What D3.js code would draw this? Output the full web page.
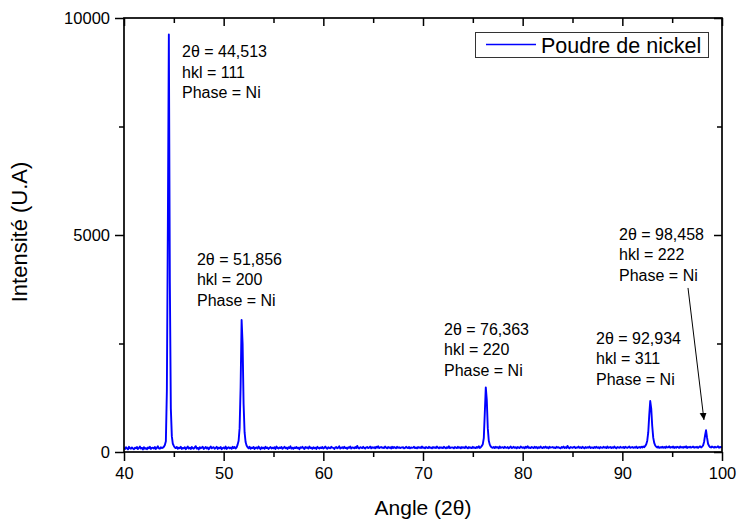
<!DOCTYPE html>
<html><head><meta charset="utf-8">
<script src="https://cdn.jsdelivr.net/npm/d3@7"></script>
<style>
html,body{margin:0;padding:0;background:#fff;}
text{font-family:Arial,"Liberation Sans",sans-serif;fill:#000;}
</style></head>
<body><svg id="c" width="737" height="523"></svg>
<script>
// ---- data ----
const angleStart = 40;      // 2θ of first sample
const angleStep = 0.1;      // sampling step (degrees)
// intensity counts, one row per degree (x.0 ... x.9)
const counts = [
 95, 70,110, 85, 60,120, 90, 75,105, 80,   // 40
 65,100, 85,115, 70, 90,125, 80, 95, 60,   // 41
110, 75, 90, 65,105, 85,120, 70, 95,100,   // 42
 80,115, 70, 95,130, 85, 75,110, 90,100,   // 43
120,160,250,1400,5200,9620,3900,1000,360,190, // 44
140,105, 90,115, 75,100, 85,120, 70, 95,   // 45
 85,110, 65, 95,125, 80,100, 70,115, 90,   // 46
 75,105,135, 80, 95, 60,110, 85,100,120,   // 47
 70, 90,115, 80,105, 65, 95,125, 85,100,   // 48
110, 75, 95,120, 70,100, 85,115, 65, 90,   // 49
105, 80,125, 70, 95,110, 85,100, 75,120,   // 50
 90,115, 80,105,170,260,550,1500,3040,2500, // 51
1100,450,230,150,110, 85,120, 75,100, 90,  // 52
115, 70, 95,105, 80,125, 90, 65,110, 85,   // 53
100, 75,120, 90,105, 70, 95,115, 80,100,   // 54
 85,110, 70,125, 95, 80,105, 90,115, 75,   // 55
 95,120, 85,100, 70,110, 90,130, 80,100,   // 56
 75,105, 90,115, 85,100, 65,110, 95,120,   // 57
 90, 70,115, 95,105, 80,125, 90,100, 75,   // 58
110, 85,100, 70,120, 95, 80,105, 90,115,   // 59
 80,100,125, 90, 75,110, 95, 85,120,100,   // 60
 95, 70,105,115, 85,100,130, 80, 95,110,   // 61
 85,120, 90,100, 75,110, 95,125, 80,105,   // 62
100, 85,115, 90,140, 95, 80,110,100, 90,   // 63
120, 95, 80,105,115, 90,100,125, 85,110,   // 64
 95,110, 85,120,100,130, 90,105,115, 95,   // 65
105, 90,125,100, 85,115, 95,110, 80,120,   // 66
 90,115,100, 85,120, 95,110, 90,105,100,   // 67
110, 85, 95,120,100, 90,115, 85,105, 95,   // 68
100,120, 90,105, 85,115, 95,110, 90,125,   // 69
 95,105, 85,115,100, 90,120, 95,105, 85,   // 70
115, 95,110, 90,125,100, 85,110, 95,105,   // 71
 90,120,100, 85,110, 95,130, 90,105,100,   // 72
105, 85,115,100, 90,120, 95,110, 85,115,   // 73
 95,110, 90,125,100, 85,115, 95,105, 90,   // 74
120, 95,105, 90,115,100,130, 95,110,140,   // 75
180,320,900,1490,1200,550,260,170,125,105, // 76
 95,115, 90,120,100,110, 85,125, 95,105,   // 77
110, 90,120,100, 95,115, 85,105,125, 90,   // 78
100,120, 95,110, 85,115,100, 90,125,105,   // 79
 95,110, 85,120,100,130, 95,105, 90,115,   // 80
105, 90,120,100,115, 85,110, 95,125,100,   // 81
 90,115,100,125, 95,110, 85,120,100,105,   // 82
115, 95,105, 90,120,100,110, 95, 85,115,   // 83
100,125, 90,110, 95,140,100, 85,115,105,   // 84
 95,110,120, 90,105,100,125, 95,110, 90,   // 85
120,100, 85,115, 95,110,100,125, 90,105,   // 86
105, 90,115,100,120, 95,110, 85,115,100,   // 87
 95,120,100,110, 90,125, 95,105,115, 90,   // 88
110, 95,125,100, 85,115,105, 95,120,100,   // 89
100,115, 90,120,105, 95,110,125, 95,105,   // 90
115, 95,110,100,125, 90,105,115,100,120,   // 91
105,125,110,140,180,260,450,850,1175,1000, // 92
600,330,210,150,120,105,125, 95,110,100,   // 93
120,100,115, 95,125,105,110,130,100,115,   // 94
105,125, 95,115,100,120,110, 95,125,105,   // 95
115,100,120,105,130, 95,115,105,120,100,   // 96
110,125,100,115,105,120, 95,115,130,105,   // 97
120,150,230,380,500,330,190,140,115,105,   // 98
125,110,100,120,105,115,130,100,115,110,   // 99
120                                        // 100
];
const seriesName = "Poudre de nickel";
const xMajorTicks = [40,50,60,70,80,90,100];
const xMinorTicks = [45,55,65,75,85,95];
const yMajorTicks = [0,5000,10000];
const yMinorTicks = [2500,7500];
const xTitle = "Angle (2\u03b8)";
const yTitle = "Intensit\u00e9 (U.A)";
// peak annotations: anchor (angle, intensity) of first text line
const annAngle = [45.82, 47.32, 72.11, 87.36, 89.67];
const annLevel = [9100, 4320, 2700, 2500, 4890];
const annLines = [
  ["2\u03b8 = 44,513","hkl = 111","Phase = Ni"],
  ["2\u03b8 = 51,856","hkl = 200","Phase = Ni"],
  ["2\u03b8 = 76,363","hkl = 220","Phase = Ni"],
  ["2\u03b8 = 92,934","hkl = 311","Phase = Ni"],
  ["2\u03b8 = 98,458","hkl = 222","Phase = Ni"]
];
const arrowFrom = [96.59, 3780];
const arrowTo = [98.19, 740];

// ---- chart ----
const svg = d3.select("#c");
const L = 124, R = 722, T = 18, B = 452;
const x = d3.scaleLinear().domain([40,100]).range([L,R]);
const y = d3.scaleLinear().domain([0,10000]).range([B,T]);
const data = counts.map((c,i)=>({a: angleStart + i*angleStep, c}));

const defs = svg.append("defs");
defs.append("clipPath").attr("id","clip").append("rect")
  .attr("x",L).attr("y",T).attr("width",R-L).attr("height",B-T);
defs.append("marker").attr("id","arr").attr("viewBox","0 0 10 10")
  .attr("refX",10).attr("refY",5).attr("markerWidth",7).attr("markerHeight",9)
  .attr("markerUnits","userSpaceOnUse").attr("orient","auto")
  .append("path").attr("d","M0,0 L10,5 L0,10 Z").attr("fill","#000");

function axis(gen, tr, ticks, size, labels){
  const g = svg.append("g").attr("transform",tr)
    .call(gen.tickValues(ticks).tickSize(size).tickSizeOuter(0)
      .tickFormat(labels ? d3.format("d") : ""));
  g.select(".domain").remove();
  g.selectAll("line").attr("stroke","#000").attr("stroke-width",1.5);
  g.selectAll("text").style("font-size","16.5px").attr("fill","#000");
  return g;
}
// bottom (outward)
axis(d3.axisBottom(x), `translate(0,${B})`, xMajorTicks, 9, true)
  .selectAll("text").attr("dy","0.95em").attr("y",11);
axis(d3.axisBottom(x), `translate(0,${B})`, xMinorTicks, 5, false);
// left (outward)
axis(d3.axisLeft(y), `translate(${L},0)`, yMajorTicks, 9, true)
  .selectAll("text").attr("x",-14).attr("dy","0.35em");
axis(d3.axisLeft(y), `translate(${L},0)`, yMinorTicks, 5, false);
// top (inward)
axis(d3.axisBottom(x), `translate(0,${T})`, xMajorTicks, 8, false);
axis(d3.axisBottom(x), `translate(0,${T})`, xMinorTicks, 5, false);
// right (inward)
axis(d3.axisLeft(y), `translate(${R},0)`, yMajorTicks, 8, false);
axis(d3.axisLeft(y), `translate(${R},0)`, yMinorTicks, 5, false);

// data line
svg.append("path").datum(data)
  .attr("clip-path","url(#clip)")
  .attr("fill","none").attr("stroke","#0000ff").attr("stroke-width",1.9)
  .attr("stroke-linejoin","round")
  .attr("d", d3.line().x(d=>x(d.a)).y(d=>y(d.c)));

// frame
svg.append("rect").attr("x",L).attr("y",T).attr("width",R-L).attr("height",B-T)
  .attr("fill","none").attr("stroke","#000").attr("stroke-width",1.7);

// annotations
annLines.forEach((lines,i)=>{
  const t = svg.append("text").attr("x",x(annAngle[i])).attr("y",y(annLevel[i]))
    .style("font-size","16px");
  lines.forEach((s,j)=>{
    t.append("tspan").attr("x",x(annAngle[i])).attr("dy", j===0?0:20.5).text(s);
  });
});
svg.append("line")
  .attr("x1",x(arrowFrom[0])).attr("y1",y(arrowFrom[1]))
  .attr("x2",x(arrowTo[0])).attr("y2",y(arrowTo[1]))
  .attr("stroke","#000").attr("stroke-width",1).attr("marker-end","url(#arr)");

// legend
const lg = svg.append("g");
lg.append("rect").attr("x",475.5).attr("y",32.5).attr("width",233).attr("height",25)
  .attr("fill","#fff").attr("stroke","#333").attr("stroke-width",1);
lg.append("line").attr("x1",486).attr("x2",536).attr("y1",44.5).attr("y2",44.5)
  .attr("stroke","#0000ff").attr("stroke-width",1.6);
lg.append("text").attr("x",541).attr("y",52.5).style("font-size","21.5px").text(seriesName);

// axis titles
svg.append("text").attr("x",(L+R)/2).attr("y",515).attr("text-anchor","middle")
  .style("font-size","21px").text(xTitle);
svg.append("text").attr("transform",`translate(27,232) rotate(-90)`)
  .attr("text-anchor","middle").style("font-size","22px").text(yTitle);
</script></body></html>
